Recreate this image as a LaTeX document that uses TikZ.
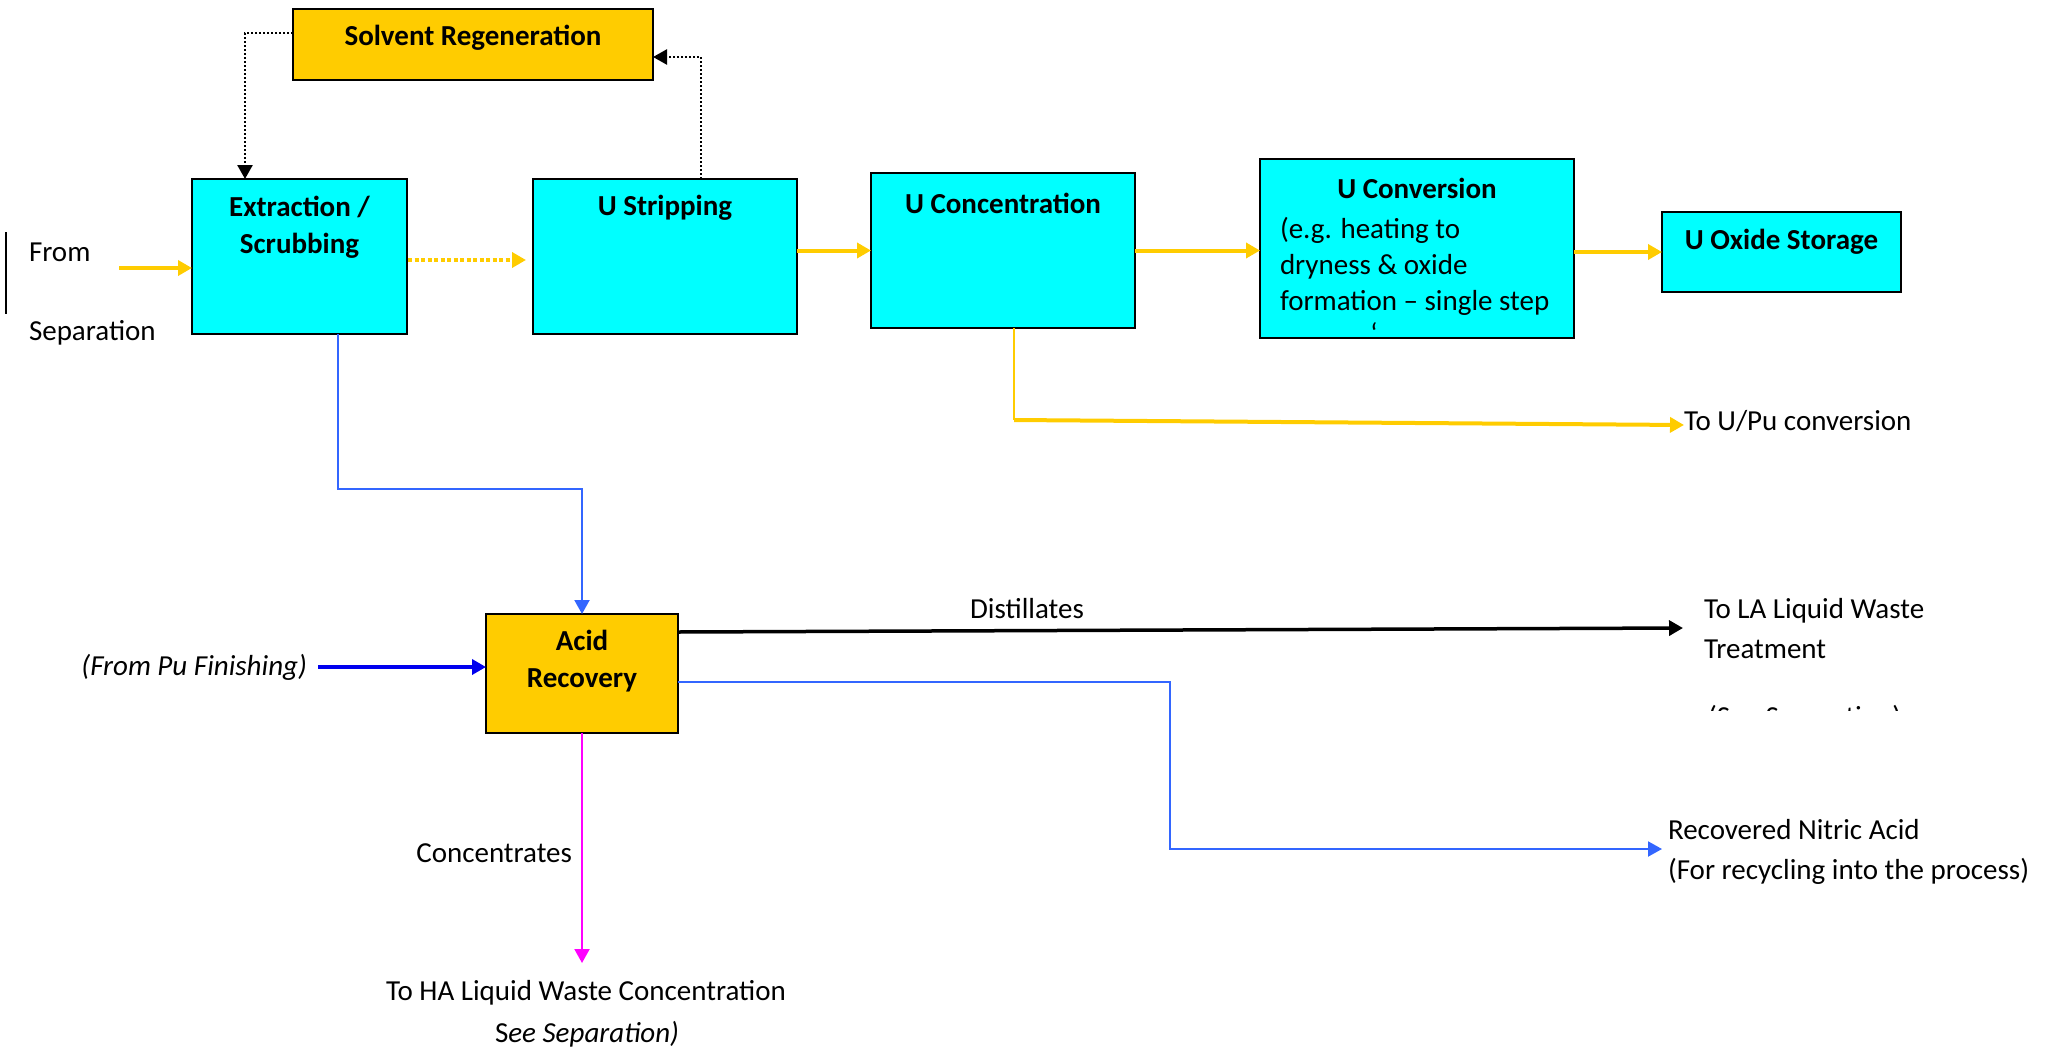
\documentclass[tikz,border=0pt]{standalone}
\usepackage{fontspec}
\setmainfont{Carlito}
\usetikzlibrary{arrows.meta}
\definecolor{cy}{HTML}{00FFFF}
\definecolor{gold}{HTML}{FFCC00}
\definecolor{lblue}{HTML}{3366FF}
\definecolor{dblue}{HTML}{0000EE}
\definecolor{mag}{HTML}{FF00FF}
\begin{document}
\begin{tikzpicture}[x=1pt,y=-1pt,
  cbox/.style={draw=black, line width=2.5pt, fill=cy, inner sep=0pt, outer sep=0pt},
  gbox/.style={draw=black, line width=2.5pt, fill=gold, inner sep=0pt, outer sep=0pt},
  txt/.style={inner sep=0pt, outer sep=0pt, font=\fontsize{29}{37}\selectfont},
  btxt/.style={txt, font=\fontsize{29}{37}\selectfont\bfseries},
  otxt/.style={txt, font=\fontsize{29}{40}\selectfont},
  tip/.style={-{Triangle[length=14pt,width=15pt]}},
  yarr/.style={tip, draw=gold, line width=4pt},
  ydot/.style={tip, draw=gold, line width=4.5pt, dash pattern=on 4pt off 2.5pt},
  darr/.style={tip, draw=black, line width=2.5pt, dash pattern=on 2pt off 2pt},
  barr/.style={tip, draw=lblue, line width=2pt},
  parr/.style={tip, draw=dblue, line width=3.5pt},
  karr/.style={tip, draw=black, line width=3.5pt},
  marr/.style={tip, draw=mag, line width=2pt}
]
\useasboundingbox (0,0) rectangle (2060,1052);

% boxes
\node[gbox, minimum width=360pt, minimum height=71pt] (sreg) at (473,44.5) {};
\node[cbox, minimum width=215pt, minimum height=155pt] (ext) at (299.5,256.5) {};
\node[cbox, minimum width=264pt, minimum height=155pt] (ustr) at (665,256.5) {};
\node[cbox, minimum width=264pt, minimum height=155pt] (ucon) at (1003,250.5) {};
\node[cbox, minimum width=314pt, minimum height=179pt] (uconv) at (1417,248.5) {};
\node[cbox, minimum width=239pt, minimum height=80pt] (uox) at (1781.5,252) {};
\node[gbox, minimum width=192pt, minimum height=119pt] (acid) at (582,673.5) {};

% box texts
\node[btxt] (sregt) at (473,38) {Solvent Regeneration};
\node[btxt, align=center] (extt) at (299.5,227) {Extraction /\\Scrubbing};
\node[btxt] (ustrt) at (665,208) {U Stripping};
\node[btxt] (ucont) at (1003,203) {U Concentration};
\node[btxt] (uconvt) at (1417,188) {U Conversion};
\node[txt, align=left, anchor=west, font=\fontsize{29}{36}\selectfont] (uconvb) at (1280,266) {(e.g. heating to\\dryness \& oxide\\formation – single step};
\node[txt] (stray) at (1374,333) {`};
\node[btxt] (uoxt) at (1781.5,242) {U Oxide Storage};
\node[btxt, align=center] (acidt) at (582,661.5) {Acid\\Recovery};

% outside texts
\node[txt, anchor=west] (from) at (29,252) {From};
\node[txt, anchor=west] (sep) at (29,333) {Separation};
\coordinate (vl1) at (6,232);
\coordinate (vl2) at (6,314);
\draw[line width=1.5pt] (vl1) -- (vl2);
\node[txt, anchor=west] (upu) at (1684,421) {To U/Pu conversion};
\node[txt, anchor=east, font=\fontsize{29}{37}\selectfont\itshape] (pufin) at (307,667) {(From Pu Finishing)};
\node[txt] (dist) at (1027,609) {Distillates};
\node[otxt, align=left, anchor=west] (la) at (1704,629) {To LA Liquid Waste\\Treatment};
\begin{scope}
  \clip (1690,700) rectangle (1920,710);
  \node[txt, anchor=north west] (seesep) at (1708,705) {(See Separation)};
\end{scope}
\node[otxt, align=left, anchor=west] (nitric) at (1668,852) {Recovered Nitric Acid\\(For recycling into the process)};
\node[txt, anchor=east] (conc) at (572,853) {Concentrates};
\node[txt] (ha) at (586,993) {To HA Liquid Waste Concentration};
\node[txt] (hasee) at (587,1034) {S{\itshape ee Separation)}};

% connectors
\coordinate (fromS) at (119,268);
\draw[yarr] (fromS) -- (fromS -| ext.west);
\coordinate (dotS) at (408,260);
\draw[ydot, shorten >=7pt] (dotS) -- (dotS -| ustr.west);
\draw[yarr] (ustr.east |- ucon.west) -- (ucon.west);
\draw[yarr] (ucon.east) -- (uconv.west |- ucon.east);
\draw[yarr] (uconv.east |- uox.west) -- (uox.west);

\coordinate (pu1) at (1014,420);
\draw[draw=gold, line width=2.5pt] (pu1 |- ucon.south) -- (pu1);
\draw[yarr] (pu1) -- ([yshift=-4pt]upu.west);

\coordinate (sr1) at (245,33);
\draw[darr] (sreg.west |- sr1) -- (sr1) -- (sr1 |- ext.north);
\coordinate (sr2) at (701,57);
\draw[darr] (sr2 |- ustr.north) -- (sr2) -- (sr2 -| sreg.east);

\coordinate (b1) at (338,489);
\draw[barr] (b1 |- ext.south) -- (b1) -| (acid.north);

\draw[parr, shorten <=11pt] (pufin.east) -- (pufin.east -| acid.west);

\coordinate (laend) at (1683,628);
\draw[karr] ([yshift=41.5pt]acid.east) -- (laend);

\coordinate (n1) at (1170,849);
\coordinate (n0) at (678,682);
\draw[barr, shorten >=6pt] (n0) -| (n1) -- (n1 -| nitric.west);

\coordinate (haend) at (582,963);
\draw[marr] (acid.south) -- (haend);
\end{tikzpicture}
\end{document}
